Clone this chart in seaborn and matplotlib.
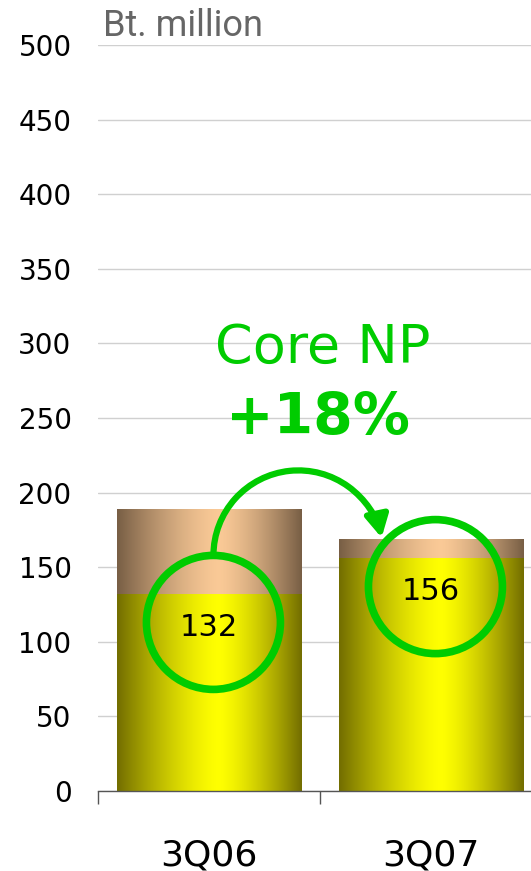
import numpy as np
import seaborn as sns
import matplotlib
matplotlib.use("Agg")
import matplotlib.pyplot as plt
from matplotlib.patches import Ellipse, FancyArrowPatch
from matplotlib.path import Path

# data (Bt. million)
quarters = ["3Q06", "3Q07"]
core_np = [132, 156]
total_np = [189, 169]
change_text = "+18%"

GREEN = "#00cc00"

sns.set_style("white")
plt.rcParams["font.family"] = ["DejaVu Sans"]

W, H, DPI = 531, 871, 100
fig = plt.figure(figsize=(W / DPI, H / DPI), dpi=DPI)
# axes run past the right edge, like the cropped original
ax = fig.add_axes([98 / W, 80 / H, 444 / W, 746 / H])

sns.barplot(x=quarters, y=total_np, color="#f9c896", width=0.83, ax=ax)
n_top = len(ax.patches)
sns.barplot(x=quarters, y=core_np, color="#ffff00", width=0.83, ax=ax)


def gradient(edge, mid, n=256, c=0.55):
    t = np.linspace(0, 1, n)
    d = np.where(t < c, (c - t) / c, (t - c) / (1 - c))
    w = np.clip(d, 0, 1) ** 1.4
    edge, mid = np.array(edge), np.array(mid)
    cols = mid[None, :] * (1 - w[:, None]) + edge[None, :] * w[:, None]
    return cols[None, :, :]


top_grad = gradient((0.47, 0.37, 0.27), (0.98, 0.79, 0.59))
low_grad = gradient((0.45, 0.43, 0.0), (1.0, 1.0, 0.0))

for i, p in enumerate(ax.patches):
    x0, y0 = p.get_x(), p.get_y()
    w, h = p.get_width(), p.get_height()
    img = ax.imshow(top_grad if i < n_top else low_grad,
                    extent=[x0, x0 + w, y0, y0 + h], aspect="auto",
                    interpolation="bilinear", zorder=p.get_zorder())
    img.set_clip_path(p)
    p.set_facecolor("none")
    p.set_edgecolor("none")

ax.set_xlim(-0.5, 1.5)
ax.set_ylim(0, 500)
ax.set_yticks(np.arange(0, 501, 50))
ax.set_axisbelow(True)
ax.grid(axis="y", color="#d0d0d0", lw=1)
ax.grid(axis="x", visible=False)
for s in ["top", "right", "left"]:
    ax.spines[s].set_visible(False)
ax.spines["bottom"].set_color("#555555")
ax.spines["bottom"].set_linewidth(1)

ax.tick_params(axis="y", length=0, pad=19, labelsize=20, labelcolor="black")
ax.tick_params(axis="x", which="major", length=0, pad=34, labelsize=26,
               labelcolor="black")
ax.set_xticks([-0.5, 0.5, 1.5], minor=True)
ax.tick_params(axis="x", which="minor", bottom=True, length=9.5, width=1,
               color="#555555", direction="out")
ax.set_xlabel("")
ax.set_ylabel("")

# px per data unit, to draw round circles on the stretched axes
px_x = 444 / 2.0
px_y = 746 / 500.0
r_px = 67

centers = []
for i, v in enumerate(core_np):
    ax.text(i, v - 28, str(v), ha="center", va="baseline", fontsize=22,
            color="black", zorder=6)
    cx, cy = i + 0.02, v - 19
    centers.append((cx, cy))
    ax.add_patch(Ellipse((cx, cy), 2 * r_px / px_x, 2 * r_px / px_y,
                         fill=False, ec=GREEN, lw=5.5, zorder=5))

# curved arrow from top of first circle to second circle
arc_r = 85
rx, ry = arc_r / px_x, arc_r / px_y
acx = centers[0][0] + rx
acy = centers[0][1] + r_px / px_y
arc = Path.arc(12, 180)
verts = arc.vertices[::-1].copy()
verts[:, 0] = acx + verts[:, 0] * rx
verts[:, 1] = acy + verts[:, 1] * ry
ax.add_patch(FancyArrowPatch(path=Path(verts, arc.codes), color=GREEN,
                             lw=4.5, arrowstyle="-|>,head_length=13,head_width=7",
                             zorder=6))

ax.text(0.513, 287, "Core NP", ha="center", va="baseline", fontsize=39,
        color=GREEN)
ax.text(0.49, 239, change_text, ha="center", va="baseline", fontsize=41,
        color=GREEN, fontweight="bold")

fig.text(103 / W, 1 - 36 / H, "Bt. million", ha="left", va="baseline",
         fontsize=26, color="#666666", family=["Roboto", "DejaVu Sans"])

fig.savefig("out.png", dpi=DPI)
